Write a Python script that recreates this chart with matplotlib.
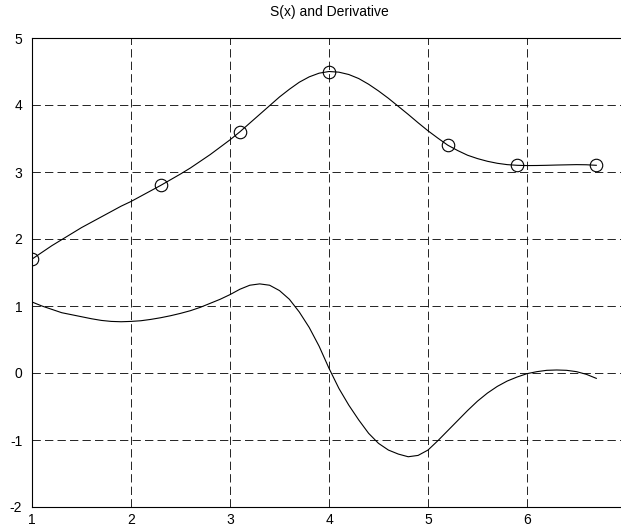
import matplotlib
matplotlib.use("Agg")
import matplotlib.pyplot as plt

# knots (circles)
knot_x = [1.0, 2.3, 3.1, 4.0, 5.2, 5.9, 6.7]
knot_y = [1.7, 2.8, 3.6, 4.5, 3.4, 3.1, 3.1]

# curve samples
xs = [1.0, 1.1, 1.2, 1.3, 1.4, 1.5, 1.6, 1.7, 1.8, 1.9,
      2.0, 2.1, 2.2, 2.3, 2.4, 2.5, 2.6, 2.7, 2.8, 2.9,
      3.0, 3.1, 3.2, 3.3, 3.4, 3.5, 3.6, 3.7, 3.8, 3.9,
      4.0, 4.1, 4.2, 4.3, 4.4, 4.5, 4.6, 4.7, 4.8, 4.9,
      5.0, 5.1, 5.2, 5.3, 5.4, 5.5, 5.6, 5.7, 5.8, 5.9,
      6.0, 6.1, 6.2, 6.3, 6.4, 6.5, 6.6, 6.7]
s_vals = [1.70, 1.80, 1.90, 1.99, 2.08, 2.17, 2.25, 2.33, 2.41, 2.49,
          2.56, 2.64, 2.72, 2.80, 2.885, 2.97, 3.06, 3.16, 3.26, 3.37,
          3.48, 3.60, 3.73, 3.86, 3.99, 4.12, 4.235, 4.34, 4.42, 4.475,
          4.50, 4.49, 4.455, 4.395, 4.31, 4.21, 4.10, 3.98, 3.86, 3.735,
          3.615, 3.505, 3.40, 3.32, 3.25, 3.20, 3.16, 3.13, 3.11, 3.10,
          3.096, 3.097, 3.10, 3.104, 3.107, 3.11, 3.108, 3.10]
ds_vals = [1.06, 1.00, 0.95, 0.90, 0.87, 0.84, 0.81, 0.785, 0.77, 0.765,
           0.77, 0.78, 0.80, 0.825, 0.855, 0.89, 0.93, 0.98, 1.04, 1.10,
           1.17, 1.25, 1.31, 1.33, 1.31, 1.23, 1.10, 0.91, 0.68, 0.40,
           0.07, -0.23, -0.48, -0.70, -0.90, -1.05, -1.15, -1.21, -1.25, -1.23,
           -1.15, -1.01, -0.86, -0.71, -0.56, -0.42, -0.30, -0.20, -0.12, -0.06,
           -0.01, 0.02, 0.04, 0.045, 0.04, 0.02, -0.02, -0.08]

x_ticks = [1, 2, 3, 4, 5, 6]
y_ticks = [-2, -1, 0, 1, 2, 3, 4, 5]

plt.rcParams['font.family'] = ['Liberation Sans', 'DejaVu Sans']
plt.rcParams['lines.scale_dashes'] = False
plt.rcParams['axes.unicode_minus'] = False

fig = plt.figure(figsize=(6.21, 5.29), dpi=100)
# axes runs a little past the right edge, as in the original crop
ax = fig.add_axes([32 / 621, 22 / 529, 594 / 621, 469 / 529])

ax.plot(xs, s_vals, color='black', lw=0.8)
ax.plot(knot_x, knot_y, 'o', mfc='none', mec='black', ms=9, mew=0.8)
ax.plot(xs, ds_vals, color='black', lw=0.8)

ax.set_xlim(1, 7)
ax.set_ylim(-2, 5)
ax.set_xticks(x_ticks)
ax.set_yticks(y_ticks)
ax.grid(True, color='black', lw=0.6, linestyle=(0, (6, 3)))
ax.tick_params(direction='in', length=0, labelsize=10)
ax.tick_params(axis='x', pad=4)
ax.tick_params(axis='y', pad=7)
for sp in ax.spines.values():
    sp.set_linewidth(0.8)

ax.set_title('S(x) and Derivative', fontsize=10, pad=16)

fig.savefig('out.png', dpi=100)
